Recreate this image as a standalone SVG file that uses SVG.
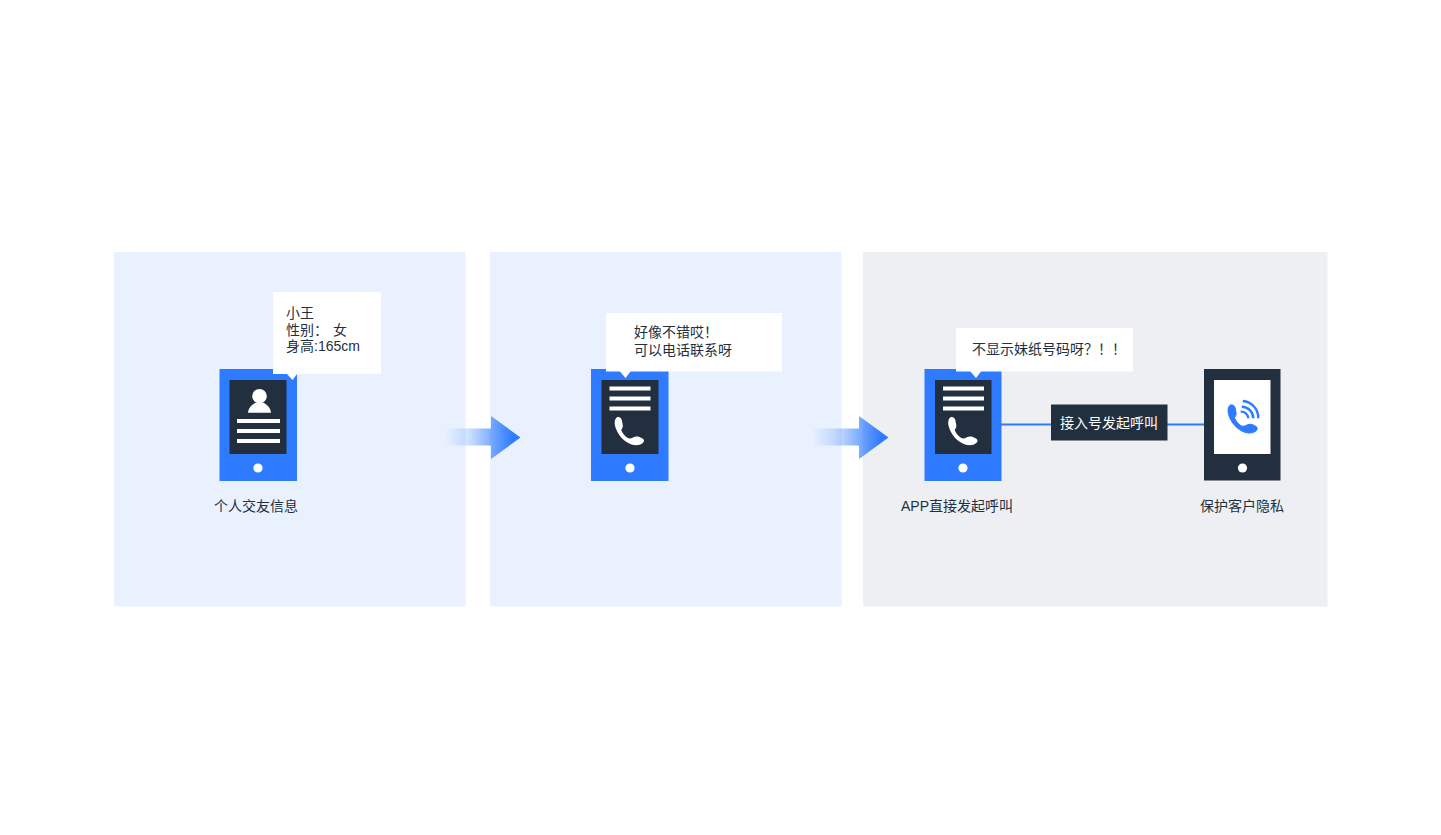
<svg xmlns="http://www.w3.org/2000/svg" xmlns:xlink="http://www.w3.org/1999/xlink" width="1441" height="835" viewBox="0 0 1441 835">
<style>
text{font-family:"Liberation Sans","Noto Sans CJK SC",sans-serif;font-size:14px;fill:#222f3e}
.blue{fill:#2f7bff}.dark{fill:#222f3e}.white{fill:#fff}.panel{fill:#e9f1ff}.gray{fill:#edeff3}
.link{stroke:#2f7bff;stroke-width:2;fill:none}.wave{stroke:#2f7bff;stroke-width:2.4;fill:none}
</style>
<defs>
<path id="handset" d="M26 48.3C28 47.5 30 48.5 30.8 51L31.8 56C32 58 31.3 59.5 30.2 61C31.5 64 33.5 67 36 68.5C38 69.8 40 69.6 41.5 68.8C43.5 67.5 46 67.2 48 67.8L51.5 69.5C53.5 70.8 53.5 72.5 51.8 74C49 76.5 44.5 76.8 40.5 75.5C33 73 27 66 24.5 58.5C23.2 54 23.5 50 26 48.3Z"/>
<linearGradient id="fade" gradientUnits="objectBoundingBox" x1="0" y1="0" x2="1" y2="0">
<stop offset="0" stop-color="#2f7bff" stop-opacity="0"/>
<stop offset="0.3" stop-color="#2f7bff" stop-opacity="0.22"/>
<stop offset="0.6" stop-color="#2f7bff" stop-opacity="0.6"/>
<stop offset="0.9" stop-color="#2f7bff"/>
<stop offset="1" stop-color="#2f7bff"/>
</linearGradient>
<g id="lines"><rect x="18.5" y="17.5" width="41" height="4"/><rect x="18.5" y="27.5" width="41" height="4"/><rect x="18.5" y="37.5" width="41" height="4"/></g>
</defs>
<rect width="1441" height="835" fill="#fff"/>
<g id="panels">
<rect class="panel" x="114" y="252" width="351.5" height="354.5"/>
<rect class="panel" x="490" y="252" width="351.5" height="354.5"/>
<rect class="gray" x="863" y="252" width="464.5" height="354.5"/>
</g>
<g id="connectors">
<path class="link" d="M1001 424.5H1051M1167 424.5H1204"/>
<path fill="url(#fade)" d="M445 428.5H491V416L520.5 437.5L491 459V445.5H445Z"/>
<path fill="url(#fade)" d="M812 428.5H859V416L888.5 437.5L859 459V445.5H812Z"/>
</g>
<g id="phone-profile" transform="translate(219.5 369)">
<rect class="blue" width="77.5" height="112"/>
<rect class="dark" x="10" y="11" width="57" height="74"/>
<circle class="white" cx="38.5" cy="99" r="4.6"/>
<circle class="white" cx="40" cy="27.2" r="7.3"/>
<path class="white" d="M28.5 43.8C29 38.5 32.5 35.7 36.5 33.5H43.5C47.5 35.7 51 38.5 51.5 43.8Z"/>
<rect class="white" x="17.5" y="50" width="43" height="4"/>
<rect class="white" x="17.5" y="60" width="43" height="4"/>
<rect class="white" x="17.5" y="70" width="43" height="4"/>
</g>
<g id="bubble-profile">
<path class="white" d="M273 292H381V374H297L292.5 380L287 374H273Z"/>
<text x="286" y="318">小王</text>
<text x="286" y="335">性别：<tspan x="333">女</tspan></text>
<text x="286" y="351">身高:165cm</text>
</g>
<g id="label-profile"><text x="214" y="511">个人交友信息</text></g>
<g id="phone-call" transform="translate(591 369)">
<rect class="blue" width="77.5" height="112"/>
<rect class="dark" x="10.5" y="11" width="57" height="74"/>
<circle class="white" cx="39" cy="99" r="4.6"/>
<use class="white" xlink:href="#lines"/>
<use class="white" xlink:href="#handset"/>
</g>
<g id="bubble-call">
<path class="white" d="M606 313H782V371.5H630.5L625.5 378L620 371.5H606Z"/>
<text x="634" y="337">好像不错哎！</text>
<text x="634" y="355">可以电话联系呀</text>
</g>
<g id="phone-app" transform="translate(924.5 369)">
<rect class="blue" width="77" height="112"/>
<rect class="dark" x="10.5" y="11" width="56.5" height="74"/>
<circle class="white" cx="38.5" cy="99" r="4.6"/>
<use class="white" xlink:href="#lines"/>
<use class="white" xlink:href="#handset"/>
</g>
<g id="bubble-app">
<path class="white" d="M956 328H1133V371.5H981L976 378L970.5 371.5H956Z"/>
<text x="972" y="354">不显示妹纸号码呀？！！</text>
</g>
<g id="label-app"><text x="901" y="511">APP直接发起呼叫</text></g>
<g id="access-number">
<rect class="dark" x="1051" y="404.5" width="116.5" height="36"/>
<text x="1060" y="428" style="fill:#fff">接入号发起呼叫</text>
</g>
<g id="phone-customer" transform="translate(1204 369)">
<rect class="dark" width="76.5" height="111.5"/>
<rect class="white" x="10" y="11" width="56.5" height="74"/>
<circle class="white" cx="38.5" cy="99" r="4.6"/>
<use class="blue" stroke="#2f7bff" stroke-width="1" transform="translate(0.3 -12.2)" xlink:href="#handset"/>
<path class="wave" d="M38.7 32A17 17 0 0 1 54.3 49.3M37.7 37.7A11.6 11.6 0 0 1 49.3 49.3M36.7 42.7A7 7 0 0 1 44.3 49.3"/>
</g>
<g id="label-customer"><text x="1200" y="511">保护客户隐私</text></g>
</svg>
